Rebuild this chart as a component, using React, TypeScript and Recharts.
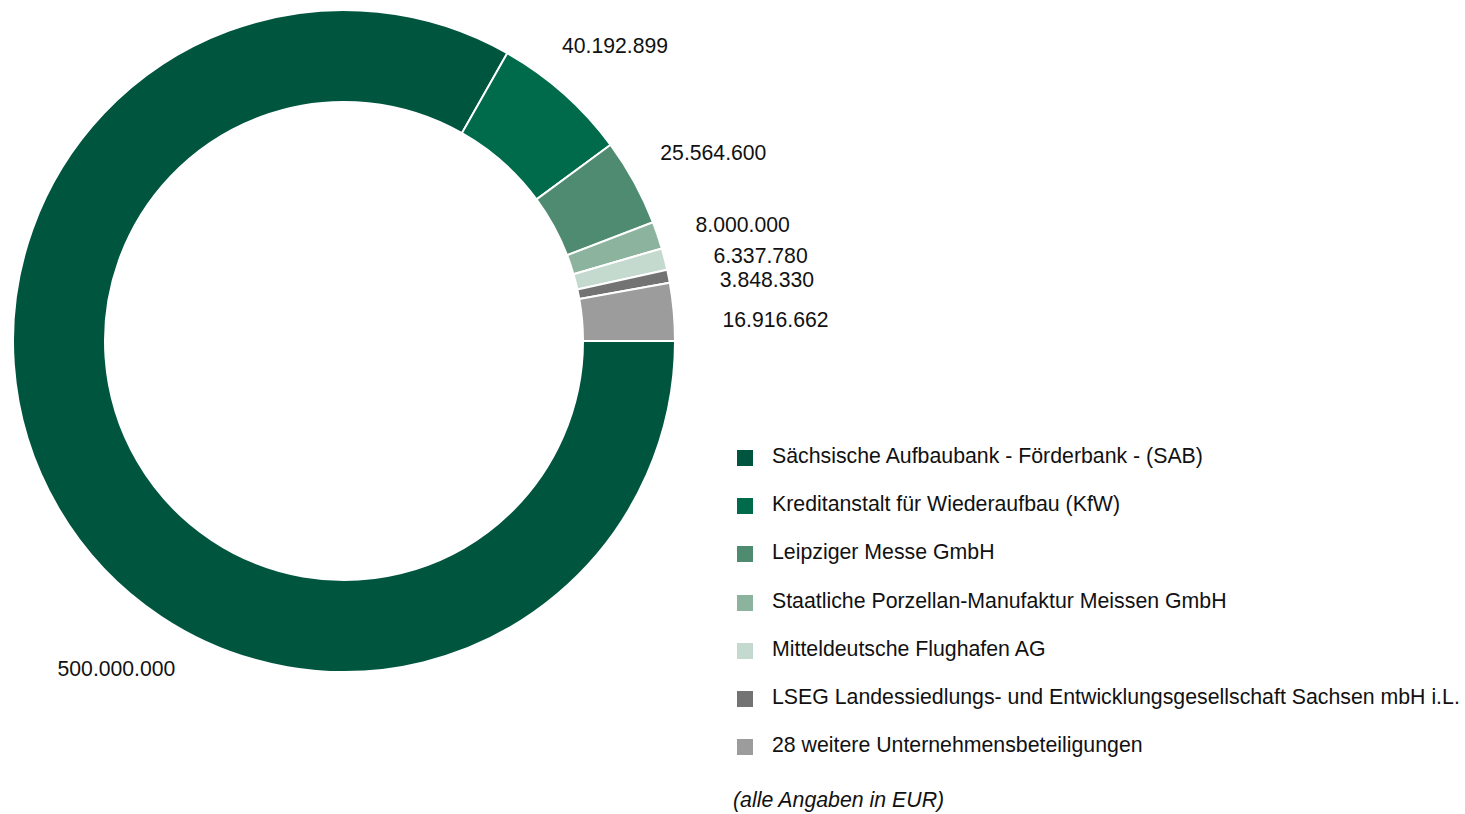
import { PieChart, Pie, Cell, Legend } from 'recharts';

const names = [
    'Sächsische Aufbaubank - Förderbank - (SAB)',
    'Kreditanstalt für Wiederaufbau (KfW)',
    'Leipziger Messe GmbH',
    'Staatliche Porzellan-Manufaktur Meissen GmbH',
    'Mitteldeutsche Flughafen AG',
    'LSEG Landessiedlungs- und Entwicklungsgesellschaft Sachsen mbH i.L.',
    '28 weitere Unternehmensbeteiligungen',
];
const values = [500000000, 40192899, 25564600, 8000000, 6337780, 3848330, 16916662];
const colors = ['#00553F', '#006B4B', '#4E8B70', '#8BB39E', '#C4DACE', '#737373', '#9C9C9C'];

const data = names.map((name, i) => ({ name, value: values[i] }));

const FONT = '"Liberation Sans", Arial, sans-serif';
const RAD = Math.PI / 180;

// nudges so the labels sit where the original put them
const labelNudge = [
    [35, 140],
    [-29, -17],
    [-10, -10],
    [-1, 2],
    [9, 7],
    [11, 11],
    [8, 11],
];

const fmt = (v: number) => String(v).replace(/\B(?=(\d{3})+(?!\d))/g, '.');

const renderLabel = (props: any) => {
    const { cx, cy, midAngle, index, value } = props;
    const r = 372;
    const x = cx + r * Math.cos(-midAngle * RAD) + labelNudge[index][0];
    const y = cy + r * Math.sin(-midAngle * RAD) + labelNudge[index][1];
    return (
        <text x={x} y={y} fill="#111" fontSize={21.2} fontFamily={FONT} dominantBaseline="central" textAnchor="start">
            {fmt(value)}
        </text>
    );
};

const renderLegend = (props: any) => {
    const items = [...(props.payload || [])].sort(
        (a: any, b: any) => names.indexOf(a.value) - names.indexOf(b.value)
    );
    return (
        <div style={{ fontFamily: FONT, fontSize: 21.3, color: '#111' }}>
            {items.map((entry: any, i: number) => (
                <div key={i} style={{ display: 'flex', alignItems: 'center', height: 48.3 }}>
                    <span style={{ display: 'inline-block', width: 16, height: 16, background: entry.color, marginRight: 19, marginTop: 3 }} />
                    <span style={{ whiteSpace: 'nowrap' }}>{entry.value}</span>
                </div>
            ))}
        </div>
    );
};

export default function App() {
    return (
        <div style={{ position: 'absolute', left: 0, top: 0, width: 1465, height: 814, background: '#fff' }}>
            <PieChart width={1465} height={814} margin={{ top: 0, right: 0, bottom: 0, left: 0 }}>
                <Pie
                    data={data}
                    dataKey="value"
                    nameKey="name"
                    cx={344}
                    cy={341}
                    innerRadius={239}
                    outerRadius={331}
                    startAngle={0}
                    endAngle={-360}
                    stroke="#fff"
                    strokeWidth={2}
                    label={renderLabel}
                    labelLine={false}
                    legendType="square"
                    isAnimationActive={false}
                >
                    {data.map((_, i) => (
                        <Cell key={i} fill={colors[i]} />
                    ))}
                </Pie>
                <Legend
                    layout="vertical"
                    verticalAlign="top"
                    align="right"
                    content={renderLegend}
                    wrapperStyle={{ left: 737, top: 432, right: 'auto', width: 725 }}
                />
            </PieChart>
            <div
                style={{
                    position: 'absolute',
                    left: 733,
                    top: 788,
                    fontFamily: FONT,
                    fontSize: 21.3,
                    fontStyle: 'italic',
                    color: '#111',
                    whiteSpace: 'nowrap',
                }}
            >
                (alle Angaben in EUR)
            </div>
        </div>
    );
}
